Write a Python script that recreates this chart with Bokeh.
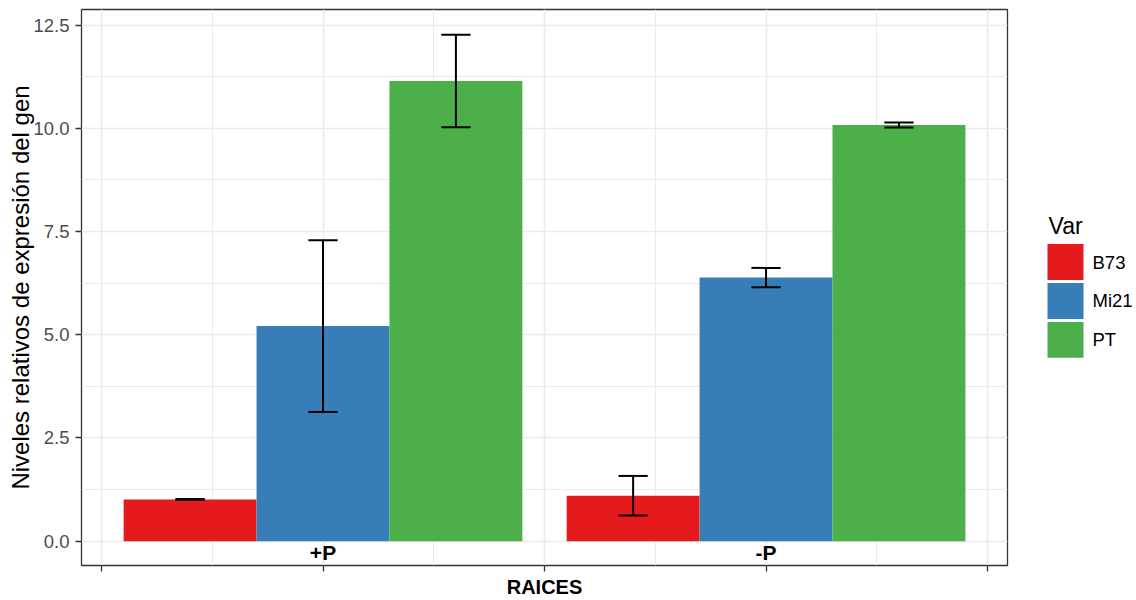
from bokeh.plotting import figure
from bokeh.layouts import row
from bokeh.models import (ColumnDataSource, FixedTicker, NumeralTickFormatter, Range1d)
from bokeh.core.properties import value
from bokeh.embed import file_html
from bokeh.resources import INLINE

# ---------------- data ----------------
groups = ["+P", "-P"]
varieties = ["B73", "Mi21", "PT"]
b73_mean = [1.01, 1.10]
b73_err = [0.01, 0.48]
mi21_mean = [5.21, 6.385]
mi21_err = [2.08, 0.235]
pt_mean = [11.15, 10.08]
pt_err = [1.12, 0.06]
y_ticks = [0, 2.5, 5, 7.5, 10, 12.5]
y_minor = [1.25, 3.75, 6.25, 8.75, 11.25]
x_label = "RAICES"
y_label = "Niveles relativos de expresión del gen"
legend_title = "Var"

# ---------------- style ----------------
FONT = "Liberation Sans"
colors = ["#E41A1C", "#377EB8", "#4DAF4A"]
means = [b73_mean, mi21_mean, pt_mean]
errs = [b73_err, mi21_err, pt_err]
group_pos = [i + 1 for i in range(len(groups))]
bar_w = 0.3
dodge = [-0.3, 0.0, 0.3]
cap_w = 0.066

p = figure(width=1020, height=600, output_backend="svg", toolbar_location=None,
           x_range=Range1d(0.4549, 2.545), y_range=Range1d(-0.59, 12.88),
           min_border_left=81, min_border_right=13, min_border_top=9,
           min_border_bottom=34)
p.background_fill_color = "white"
p.border_fill_color = "white"
p.outline_line_color = "#333333"
p.outline_line_width = 1.3

xt = FixedTicker(ticks=[0.5, 1.0, 1.5, 2.0, 2.5], minor_ticks=[0.75, 1.25, 1.75, 2.25])
yt = FixedTicker(ticks=y_ticks, minor_ticks=y_minor)
p.xaxis.ticker = xt
p.yaxis.ticker = yt
p.xgrid.ticker = xt
p.ygrid.ticker = yt
for g in (p.xgrid, p.ygrid):
    g.grid_line_color = "#EBEBEB"
    g.grid_line_width = 1.6
    g.minor_grid_line_color = "#EBEBEB"
    g.minor_grid_line_width = 1.0

p.yaxis.formatter = NumeralTickFormatter(format="0.0")
for ax in (p.xaxis, p.yaxis):
    ax.axis_line_color = None
    ax.major_tick_line_color = "#333333"
    ax.major_tick_line_width = 1.3
    ax.major_tick_out = 6
    ax.major_tick_in = 0
    ax.minor_tick_out = 0
    ax.minor_tick_in = 0
    ax.major_label_text_font = FONT
    ax.major_label_text_color = "#4D4D4D"
    ax.major_label_text_font_size = "18.5px"
    ax.major_label_standoff = 6
    ax.axis_label_text_font = FONT
    ax.axis_label_text_color = "black"

p.xaxis.major_label_overrides = {t: "" for t in [0.5, 1.0, 1.5, 2.0, 2.5]}
p.xaxis.major_label_text_font_size = "1px"
p.xaxis.major_label_standoff = 0
p.xaxis.axis_label = x_label
p.xaxis.axis_label_text_font_style = "bold"
p.xaxis.axis_label_text_font_size = "20px"
p.xaxis.axis_label_standoff = 4

p.yaxis.axis_label = y_label
p.yaxis.axis_label_text_font_style = "normal"
p.yaxis.axis_label_text_font_size = "24px"
p.yaxis.axis_label_standoff = -4

# bars + error bars
for i, v in enumerate(varieties):
    xs = [g + dodge[i] for g in group_pos]
    src = ColumnDataSource(dict(
        x=xs, top=means[i],
        lo=[m - e for m, e in zip(means[i], errs[i])],
        hi=[m + e for m, e in zip(means[i], errs[i])],
        cl=[x - cap_w / 2 for x in xs],
        cr=[x + cap_w / 2 for x in xs],
    ))
    p.vbar(x="x", top="top", bottom=0, width=bar_w, source=src,
           fill_color=colors[i], line_color=None)
    p.segment(x0="x", y0="lo", x1="x", y1="hi", source=src,
              line_color="black", line_width=2)
    p.segment(x0="cl", y0="hi", x1="cr", y1="hi", source=src,
              line_color="black", line_width=2)
    p.segment(x0="cl", y0="lo", x1="cr", y1="lo", source=src,
              line_color="black", line_width=2)

# group labels inside the panel
p.text(x=group_pos, y=[-0.278] * len(groups), text=groups,
       text_font=value(FONT), text_font_style="bold", text_font_size="21px",
       text_color="black", text_align="center", text_baseline="middle")

# ---------------- legend (separate panel, frame aligned with main plot) ----------------
lg = figure(width=116, height=600, output_backend="svg", toolbar_location=None,
            x_range=Range1d(0, 116), y_range=Range1d(566, 9),
            x_axis_location=None, y_axis_location=None,
            min_border=0, min_border_left=0, min_border_right=0,
            min_border_top=9, min_border_bottom=34)
lg.grid.visible = False
lg.outline_line_color = None
lg.background_fill_color = "white"
lg.border_fill_color = "white"

key_left, key_size, key_pitch, key_top0 = 27, 36, 39, 244
idx = list(range(len(varieties)))
tops = [key_top0 + k * key_pitch for k in idx]
lsrc = ColumnDataSource(dict(
    left=[key_left] * len(idx), right=[key_left + key_size] * len(idx),
    top=tops, bottom=[t + key_size for t in tops],
    color=colors, label=varieties,
    lx=[key_left + key_size + 9] * len(idx),
    ly=[t + key_size / 2 for t in tops],
))
lg.quad(left="left", right="right", top="top", bottom="bottom",
        fill_color="color", line_color=None, source=lsrc)
lg.text(x="lx", y="ly", text="label", source=lsrc, text_font=value(FONT),
        text_font_size="18.5px", text_color="black", text_baseline="middle",
        text_align="left")
lg.text(x=[key_left + 1], y=[226], text=[legend_title], text_font=value(FONT),
        text_font_size="23px", text_color="black", text_baseline="middle",
        text_align="left")

layout = row(p, lg, spacing=0)
open("out.html", "w").write(file_html(layout, INLINE))
